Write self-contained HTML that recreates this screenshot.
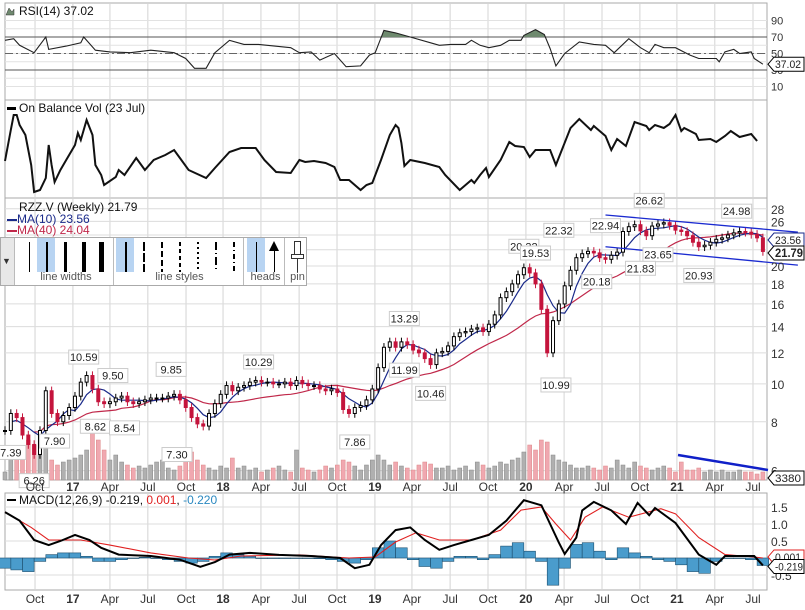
<!DOCTYPE html>
<html><head><meta charset="utf-8">
<style>
html,body{margin:0;padding:0;background:#fff;}
body{width:805px;height:610px;overflow:hidden;position:relative;font-family:"Liberation Sans",sans-serif;}
svg{position:absolute;left:0;top:0;}
.toolbar{position:absolute;left:0;top:237px;width:307px;height:49px;background:#fff;border:1px solid #aaa;box-sizing:border-box;}
.tsec{position:absolute;top:0;height:47px;border-right:1px solid #bbb;}
.tlab{position:absolute;bottom:2px;left:0;right:0;text-align:center;font-size:11px;color:#555;}
.sel{position:absolute;background:#b8d4f2;}
.vb{position:absolute;background:#000;top:4px;height:30px;}
</style></head>
<body>
<svg id="chart" width="805" height="610"></svg>

<div class="toolbar">
  <div class="tsec" style="left:0;width:13px;background:#e8e8e8;"><div style="position:absolute;top:18px;left:1px;font-size:9px;color:#333;">▼</div></div>
  <div class="tsec" style="left:18px;width:94px;">
    <div class="sel" style="left:18px;top:0;width:18px;height:34px;"></div>
    <div class="vb" style="left:10px;width:1px;"></div>
    <div class="vb" style="left:27px;width:2px;"></div>
    <div class="vb" style="left:45px;width:3px;"></div>
    <div class="vb" style="left:63px;width:4px;"></div>
    <div class="vb" style="left:80px;width:5px;"></div>
    <div class="tlab">line widths</div>
  </div>
  <div class="tsec" style="left:115px;width:127px;">
    <div class="sel" style="left:0;top:0;width:18px;height:34px;"></div>
    <div class="vb" style="left:9px;width:2px;"></div>
    <div class="vb" style="left:27px;width:2px;background:repeating-linear-gradient(#000 0 9px,transparent 9px 11px);"></div>
    <div class="vb" style="left:45px;width:2px;background:repeating-linear-gradient(#000 0 6px,transparent 6px 9px);"></div>
    <div class="vb" style="left:63px;width:2px;background:repeating-linear-gradient(#000 0 4px,transparent 4px 7px);"></div>
    <div class="vb" style="left:81px;width:2px;background:repeating-linear-gradient(#000 0 2px,transparent 2px 5px);"></div>
    <div class="vb" style="left:99px;width:2px;background:repeating-linear-gradient(#000 0 8px,transparent 8px 11px,#000 11px 12px,transparent 12px 15px);"></div>
    <div class="vb" style="left:117px;width:2px;background:repeating-linear-gradient(#000 0 5px,transparent 5px 8px,#000 8px 9px,transparent 9px 12px);"></div>
    <div class="tlab">line styles</div>
  </div>
  <div class="tsec" style="left:246px;width:37px;">
    <div class="sel" style="left:0;top:0;width:18px;height:34px;"></div>
    <div class="vb" style="left:9px;width:1px;"></div>
    <div class="vb" style="left:27px;width:1px;top:12px;height:22px;"></div>
    <div style="position:absolute;left:22px;top:3px;width:0;height:0;border-left:5px solid transparent;border-right:5px solid transparent;border-bottom:10px solid #000;"></div>
    <div class="tlab">heads</div>
  </div>
  <div class="tsec" style="left:287px;width:19px;border-right:none;">
    <div style="position:absolute;left:6px;top:3px;width:5px;height:12px;border:1px solid #333;"></div>
    <div style="position:absolute;left:3px;top:16px;width:11px;height:3px;border:1px solid #333;"></div>
    <div style="position:absolute;left:9px;top:21px;width:1px;height:13px;background:#333;"></div>
    <div class="tlab">pin</div>
  </div>
</div>

<script>
// ---------- DATA ----------
// weekly timeline: week 0 = early Aug 2016, week 260 = 23 Jul 2021
const closes = [7.6,8.4,8.2,7.4,7.0,6.6, 7.6,9.6,8.4,8.0,8.3,8.7, 9.3,10.1,10.5,9.7,9.0,8.9, 9.0,9.2,9.3,9.0,8.9,9.0,
 9.1,9.2,9.2,9.2,9.3,9.4, 9.1,8.7,8.2,7.9,7.8,8.4, 8.9,9.4,9.9,9.6,9.8,9.9, 10.1,10.2,10.1,10.1,10.0,10.0,
 10.1,9.9,10.2,10.0,9.9,9.9, 9.7,9.6,9.7,9.5,8.6,8.4, 8.7,8.8,9.1,9.7,11.0,12.4, 12.8,12.4,12.8,12.6,12.2,12.0,
 11.6,11.2,12.0,12.1,12.5,13.2, 13.5,13.6,13.8,13.9,13.6,14.2, 15.0,16.6,17.2,18.0,19.0,19.8, 19.2,18.0,15.5,12.0,14.5,16.0,
 17.8,19.5,21.0,21.5,21.8,21.6, 21.0,20.8,21.3,21.7,24.5,25.2, 25.5,24.6,23.9,25.3,25.6,25.8, 25.4,24.7,24.5,23.9,23.0,22.4,
 22.6,23.0,23.4,23.6,24.0,24.3, 24.5,24.4,24.1,23.6,21.79];
const volumes = [8,22,30,25,40,35,25,35,20,15,18,20,22,25,30,55,40,30,20,25,18,15,12,14,12,15,18,20,12,10,14,22,28,20,15,12,10,14,12,22,
 12,14,10,12,8,10,12,14,10,8,30,12,10,8,10,14,12,15,20,18,14,10,15,20,25,20,15,18,14,12,10,15,18,16,12,12,14,10,12,14,
 10,18,15,12,14,18,16,20,22,28,35,30,40,38,25,20,18,15,12,12,14,12,10,14,12,20,15,12,18,14,12,10,12,14,12,8,18,10,10,12,
 8,10,8,10,8,8,10,8,8,6,8];
const rsiWeeks = [0,3,5,10,14,15,21,26,27,31,36,43,50,58,62,65,69,72,77,82,87,98,101,105,108,113,117,122,125,127,130,134,139,146,149,153,158,160,163,166,170,173,177,178,182,185,187,189,192,197,202,206,209,214,218,221,223,226,230,235,238,244,245,247,250,252,256,257,260];
const rsiValues = [66,68,60,51,70,55,59,63,70,54,52,51,54,51,44,32,32,51,66,61,61,57,51,52,42,50,34,35,48,51,78,75,70,63,60,61,61,66,60,57,60,66,66,72,79,73,56,35,50,64,61,60,51,68,57,51,61,57,57,48,44,44,40,52,55,50,52,44,37.02];
const obvWeeks = [0,2,3,4,5,7,9,10,12,14,15,16,17,19,21,24,25,26,28,30,31,33,34,38,39,41,45,48,51,55,58,60,63,69,72,77,81,86,89,93,98,101,103,106,110,113,115,118,122,124,126,129,132,134,135,136,137,139,144,149,151,156,160,161,163,165,166,170,173,175,178,180,182,187,189,194,197,201,202,206,208,210,213,216,220,221,223,226,228,230,232,233,237,238,242,244,247,249,252,256,258];
const obvValues = [39,70,85,85,75,65,35,8,10,22,55,35,18,30,40,55,67,60,80,65,35,25,15,23,30,25,42,30,40,45,50,42,30,22,32,48,52,52,40,28,27,40,38,39,37,33,20,20,10,15,17,40,65,75,72,57,34,40,37,33,25,10,20,17,25,32,23,40,58,54,53,43,50,50,35,72,81,70,74,64,50,61,54,78,74,70,75,72,76,85,69,72,66,60,61,58,64,69,63,66,59];
const macdWeeks = [0,5,10,15,19,24,29,33,39,50,60,67,72,77,84,94,105,115,120,125,129,134,139,144,149,154,160,166,172,178,184,187,190,192,196,198,202,208,213,217,221,223,230,238,244,247,257,260];
const macdValues = [1.35,1.1,0.53,0.38,0.5,0.68,0.53,0.3,0.1,0.06,-0.05,-0.26,-0.12,0.1,0.15,0.09,0.06,0,-0.3,-0.2,0.38,0.82,0.9,0.53,0.24,0.38,0.53,0.68,1.1,1.7,1.55,1.0,0.45,0.12,0.6,1.4,1.65,1.4,1.0,1.62,1.26,1.47,1.03,0.1,-0.2,0.06,0.06,-0.219];
const signalWeeks = [0,9,15,26,36,50,63,72,81,101,118,127,134,141,149,160,170,177,184,189,194,199,205,214,225,230,238,247,257,260];
const signalValues = [1.35,0.9,0.53,0.53,0.38,0.15,0,-0.06,0.06,0.09,0,0.03,0.47,0.74,0.53,0.53,0.82,1.41,1.5,1.0,0.53,1.2,1.5,1.2,1.45,1.3,0.6,0.1,0.03,0.001];
const histValues = [-0.3,-0.35,-0.4,-0.1,0.1,0.15,0.15,0.05,-0.1,-0.1,-0.05,0,0.02,0,-0.05,-0.1,-0.15,-0.1,0.05,0.15,0.1,0.05,0,0,0,0,0,-0.02,-0.05,-0.1,-0.15,-0.05,0.3,0.5,0.3,-0.05,-0.25,-0.3,-0.1,0.05,0.05,-0.05,0.1,0.35,0.45,0.2,-0.1,-0.8,-0.3,0.4,0.45,0.2,-0.05,0.3,0.15,0.05,-0.05,-0.1,-0.2,-0.4,-0.45,-0.1,0,0,-0.05,-0.22];
const tickWeeks = [10.3,23.3,36,49,62.1,74.8,87.8,100.9,113.9,126.9,139.6,152.7,165.7,178.7,191.8,204.8,217.8,230.5,243.5,256.6];
const tickLabels = ["Oct","17","Apr","Jul","Oct","18","Apr","Jul","Oct","19","Apr","Jul","Oct","20","Apr","Jul","Oct","21","Apr","Jul"];
const priceTicks = [6,8,10,12,14,16,18,20,26,28];
const priceGrid = [6,8,10,12,14,16,18,20,22,24,26,28];
const rsiTicks = [10,30,50,70,90];
const macdTicks = [-0.5,0.5,1.0,1.5];
const annWeeks = [2,10,17,27,31,37,41,57,59,87,120,137,137,146,178,182,190,189,206,203,221,224,218,238,251];
const annValues = [7.39,6.26,7.90,10.59,8.62,9.50,8.54,9.85,7.30,10.29,7.86,13.29,11.99,10.46,20.32,19.53,22.32,10.99,22.94,20.18,26.62,23.65,21.83,20.93,24.98];
const annAbove = [0,0,0,1,0,1,0,1,0,1,0,1,0,0,1,1,1,0,1,0,1,0,0,0,1];
const channelWeeks = [206,272];
const channelUpper = [27.0,24.4];
const channelLower = [22.4,20.1];

// ---------- SCALES ----------
const xw = w => 5 + w*2.915;
const py = p => 266 - 170*Math.log(p/20);
const ry = v => 70 + (30 - v)*0.825;
const oy = v => 200 - v;
const my = v => 558 - 34*v;
const vy = v => 480 - v;

const svg = document.getElementById('chart');
const NS = 'http://www.w3.org/2000/svg';
function mk(tag, attrs, parent){const e=document.createElementNS(NS,tag);for(const k in attrs)e.setAttribute(k,attrs[k]);(parent||svg).appendChild(e);return e;}
function txt(x,y,s,attrs){const e=mk('text',Object.assign({x:x,y:y,'font-size':11,fill:'#333','font-family':'Liberation Sans, sans-serif'},attrs||{}));e.textContent=s;return e;}

// panels
const panels=[[3,100,'rsi-panel'],[100,198,'obv-panel'],[198,480,'price-panel'],[493,590,'macd-panel']];
panels.forEach(p=>{
  const r=mk('rect',{x:5,y:p[0],width:762,height:p[1]-p[0],fill:'#fff',stroke:'#aaa','stroke-width':1});
  
  
});
panels.forEach(p=>{
  tickWeeks.forEach(w=>{
    const l=mk('line',{x1:xw(w),x2:xw(w),y1:p[0],y2:p[1],stroke:'#d4d4d4','stroke-width':1});
    
    
  });
});
for(let v=10;v<=90;v+=10){
  const l=mk('line',{x1:5,x2:767,y1:ry(v),y2:ry(v),stroke:'#e2e2e2'});
  
  
}
[70,30].forEach(v=>{
  const l=mk('line',{x1:5,x2:767,y1:ry(v),y2:ry(v),stroke:'#555'});
  
  
});
{const l=mk('line',{x1:5,x2:767,y1:ry(50),y2:ry(50),stroke:'#666','stroke-dasharray':'8,3,2,3'});

}
priceGrid.forEach(v=>{
  const l=mk('line',{x1:5,x2:767,y1:py(v),y2:py(v),stroke:'#dcdcdc'});
  
  
});
[-0.5,0,0.5,1,1.5].forEach(v=>{
  const l=mk('line',{x1:5,x2:767,y1:my(v),y2:my(v),stroke:'#dcdcdc'});
  
  
});

function path(weeks,vals,sc){return weeks.map((w,i)=>(i?'L':'M')+xw(w).toFixed(1)+','+sc(vals[i]).toFixed(1)).join('');}
{
  let d='';
  const y70=ry(70);
  for(let i=0;i<rsiWeeks.length-1;i++){
    const a=rsiValues[i],b=rsiValues[i+1];
    if(a>70||b>70){
      const x1=xw(rsiWeeks[i]),x2=xw(rsiWeeks[i+1]);
      const t1=a>70?0:(70-a)/(b-a), t2=b>70?1:(70-a)/(b-a);
      const xa=x1+(x2-x1)*t1, xb=x1+(x2-x1)*t2;
      const ya=ry(a+(b-a)*t1), yb=ry(a+(b-a)*t2);
      d+=`M${xa},${y70}L${xa},${ya}L${xb},${yb}L${xb},${y70}Z`;
    }
  }
  const f=mk('path',{d:d,fill:'#6f8a6f',stroke:'none'});
  
  
  const p=mk('path',{d:path(rsiWeeks,rsiValues,ry),fill:'none',stroke:'#222','stroke-width':1.1});
  
  
}
{const p=mk('path',{d:path(obvWeeks,obvValues,oy),fill:'none',stroke:'#111','stroke-width':2});

}

const n=closes.length;
const wk=i=>i*260/(n-1);
volumes.forEach((v,i)=>{
  const up=i===0||closes[i]>=closes[i-1];
  const r=mk('rect',{x:xw(wk(i))-2,y:vy(v),width:4,height:v,fill:up?'#b0b0b0':'#f0a8b0',stroke:up?'#888':'#d88',"stroke-width":0.5});
  
  
});
{const l=mk('line',{x1:678,y1:455,x2:768,y2:470,stroke:'#1020c8','stroke-width':2.5});

}

function ma(len,start){let d='';for(let i=start;i<n;i++){const s=Math.max(0,i-len+1);let sum=0;for(let j=s;j<=i;j++)sum+=closes[j];d+=(i===start?'M':'L')+xw(wk(i)).toFixed(1)+','+py(sum/(i-s+1)).toFixed(1);}return d;}
{const p=mk('path',{d:ma(20,5),fill:'none',stroke:'#c0284a','stroke-width':1.2});


const q=mk('path',{d:ma(5,1),fill:'none',stroke:'#1a2a8a','stroke-width':1.2});

}

closes.forEach((c,i)=>{
  const o=i===0?c:closes[i-1];
  const up=c>=o;
  const x=xw(wk(i));
  const hi=Math.max(o,c)*1.025, lo=Math.min(o,c)*0.975;
  const col=up?'#000':'#c4143c';
  const w=mk('line',{x1:x,x2:x,y1:py(hi),y2:py(lo),stroke:col,'stroke-width':1});
  
  
  const top=py(Math.max(o,c)), h=Math.max(1,py(Math.min(o,c))-top);
  const b=mk('rect',{x:x-1.5,y:top,width:3,height:h,fill:up?'#fff':'#c4143c',stroke:col,'stroke-width':1});
  
  
});
[channelUpper,channelLower].forEach((arr,k)=>{
  const l=mk('line',{x1:xw(channelWeeks[0]),y1:py(arr[0]),x2:xw(channelWeeks[1]),y2:py(arr[1]),stroke:'#1a2ad0','stroke-width':1.3});
  
  
});
annWeeks.forEach((w,i)=>{
  const s=annValues[i].toFixed(2);
  const x=xw(w), y=annAbove[i]?py(annValues[i]*1.03)-12:py(annValues[i]*0.97)+12;
  const r=mk('rect',{x:x-15,y:y-7,width:30,height:14,fill:'#fff',stroke:'#ccc'});
  
  
  const t=txt(x,y+4,s,{'text-anchor':'middle',fill:'#222','font-size':11});
  
  
});

histValues.forEach((v,i)=>{
  const x=xw(i*4)-5.8, y0=my(0), y1=my(v);
  const r=mk('rect',{x:x,y:Math.min(y0,y1),width:11.6,height:Math.max(0.5,Math.abs(y1-y0)),fill:'#4a9ccc',stroke:'#1d4f6e','stroke-width':0.6});
  
  
});
{const s=mk('path',{d:path(signalWeeks,signalValues,my),fill:'none',stroke:'#e02020','stroke-width':1.1});


const m=mk('path',{d:path(macdWeeks,macdValues,my),fill:'none',stroke:'#000','stroke-width':2});

}

rsiTicks.forEach(v=>{const t=txt(771,ry(v)+4,String(v));

});
priceTicks.forEach(v=>{const t=txt(771,py(v)+5,String(v),{'font-size':12});

});
macdTicks.forEach(v=>{const t=txt(771,my(v)+5,v.toFixed(1),{'font-size':12});

});
[491,603].forEach(y=>{
  tickWeeks.forEach((w,i)=>{
    const isYear=/^\d+$/.test(tickLabels[i]);
    const t=txt(xw(w),y,tickLabels[i],{'text-anchor':'middle','font-size':12,'font-weight':isYear?'bold':'normal',fill:'#333'});
    
    
  });
});

function tag(y,s,stroke,name,bold){
  const g=mk('path',{d:`M768,${y}L774,${y-7}L804,${y-7}L804,${y+7}L774,${y+7}Z`,fill:'#fff',stroke:stroke,'stroke-width':1});
  
  
  const t=txt(775,y+4,s,{'font-size':bold?12:11,'font-weight':bold?'bold':'normal',fill:'#222',textLength:s.length>5?28:(bold?28:26),lengthAdjust:'spacingAndGlyphs'});
  
  
}
tag(ry(37.02),'37.02','#000','rsi-value-tag');
tag(240,'23.56','#1a2a8a','ma10-value-tag');
tag(253,'21.79','#000','price-value-tag',true);
tag(478,'3380','#000','volume-value-tag');
tag(my(0.001)-1,'0.001','#e02020','signal-value-tag');
tag(my(-0.219)+1,'-0.219','#000','macd-value-tag');

function title(x,y,s,col,name){const t=txt(x,y,s,{'font-size':12,fill:col||'#111'});

return t;}
{const ic=mk('path',{d:'M6,15L9,8L12,12L14,9L14,15Z',fill:'#6f8a6f',stroke:'#333','stroke-width':0.5});

}
title(19,15,'RSI(14) 37.02','#111','rsi-title');
{const l=mk('rect',{x:7,y:107,width:9,height:3,fill:'#000'});

}
title(19,112,'On Balance Vol (23 Jul)','#111','obv-title');
title(19,211,'RZZ.V (Weekly) 21.79','#111','price-title');
{const l=mk('rect',{x:7,y:219,width:10,height:2,fill:'#1a2a8a'});


const l2=mk('rect',{x:7,y:230,width:10,height:2,fill:'#c0284a'});

}
title(17,223,'MA(10) 23.56','#1a2a8a','ma10-legend');
title(17,234,'MA(40) 24.04','#c0284a','ma40-legend');
{const t=txt(19,504,'',{'font-size':12,fill:'#111'});


t.innerHTML='MACD(12,26,9) -0.219, <tspan fill="#e02020">0.001</tspan>, <tspan fill="#2a88c0">-0.220</tspan>';
const l=mk('rect',{x:7,y:499,width:9,height:2,fill:'#000'});

}
</script>
</body></html>
